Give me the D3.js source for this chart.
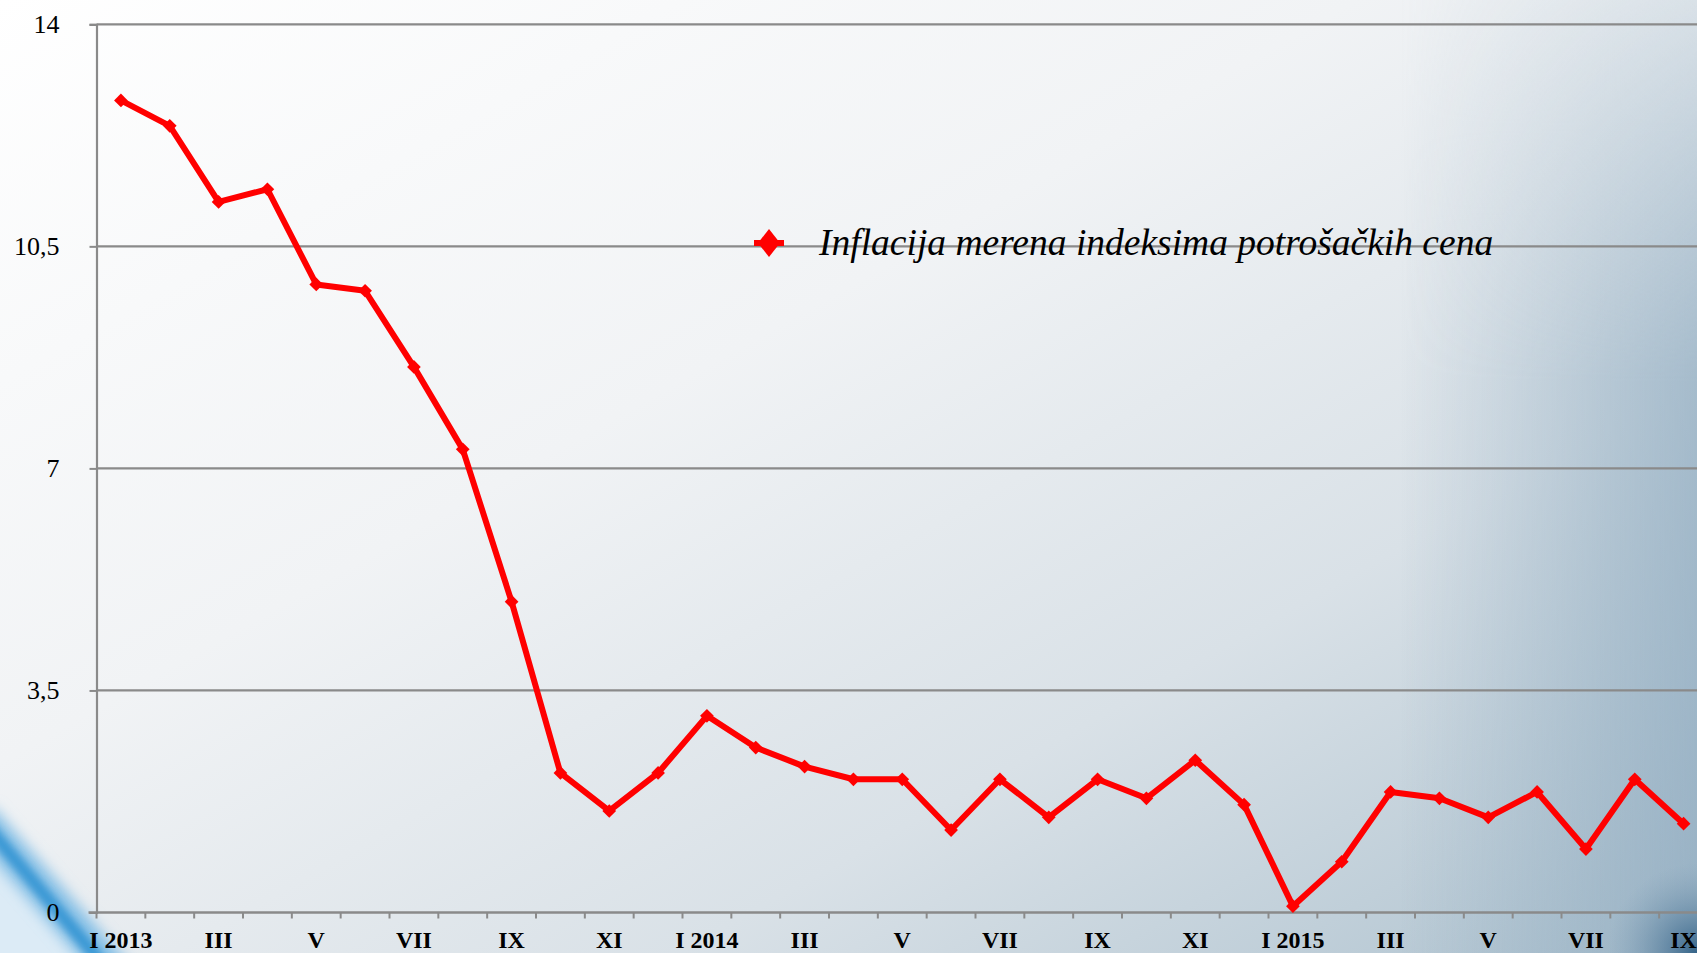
<!DOCTYPE html>
<html lang="sr">
<head>
  <meta charset="UTF-8">
  <title>Inflacija merena indeksima potrošačkih cena</title>
  <script src="https://d3js.org/d3.v7.min.js"></script>
  <style>
    body { margin: 0; overflow: hidden; }
    svg { display: block; }
    .ylab { font-family: "Liberation Serif", "Times New Roman", serif; font-size: 26px; fill: #000; }
    .xlab { font-family: "Liberation Serif", "Times New Roman", serif; font-size: 24px; font-weight: bold; fill: #000; }
    .legend { font-family: "Liberation Serif", "Times New Roman", serif; font-size: 37.5px; font-style: italic; fill: #000; }
  </style>
</head>
<body>
  <svg id="chart" width="1697" height="953"></svg>
  <script>
    // podaci - godisnja inflacija (%)
    const months = ["I", "II", "III", "IV", "V", "VI", "VII", "VIII", "IX", "X", "XI", "XII"];
    const years = [2013, 2014, 2015];
    const values2013 = [12.8, 12.4, 11.2, 11.4, 9.9, 9.8, 8.6, 7.3, 4.9, 2.2, 1.6, 2.2];
    const values2014 = [3.1, 2.6, 2.3, 2.1, 2.1, 1.3, 2.1, 1.5, 2.1, 1.8, 2.4, 1.7];
    const values2015 = [0.1, 0.8, 1.9, 1.8, 1.5, 1.9, 1.0, 2.1, 1.4];
    const yTicks = [0, 3.5, 7, 10.5, 14];
    const seriesName = "Inflacija merena indeksima potrošačkih cena";

    const series = [values2013, values2014, values2015];
    const data = [];
    series.forEach((vals, yi) => {
      vals.forEach((v, mi) => {
        data.push({ key: months[mi] + " " + years[yi], label: mi === 0 ? "I " + years[yi] : months[mi], value: v });
      });
    });

    const width = 1697, height = 953;
    const plotLeft = 96.5, plotRight = 1708, plotTop = 24.3, plotBottom = 912.5;

    const svg = d3.select("#chart");
    const defs = svg.append("defs");

    // pozadina
    const bg = defs.append("linearGradient").attr("id", "bg")
      .attr("x1", "0").attr("y1", "0").attr("x2", "1").attr("y2", "1");
    bg.append("stop").attr("offset", "0").attr("stop-color", "#ffffff");
    bg.append("stop").attr("offset", "0.4").attr("stop-color", "#f1f3f5");
    bg.append("stop").attr("offset", "0.7").attr("stop-color", "#d9e1e7");
    bg.append("stop").attr("offset", "1").attr("stop-color", "#aec2cf");

    const edge = defs.append("linearGradient").attr("id", "edge")
      .attr("x1", "0").attr("y1", "0").attr("x2", "1").attr("y2", "0");
    edge.append("stop").attr("offset", "0").attr("stop-color", "#8fabc0").attr("stop-opacity", 0);
    edge.append("stop").attr("offset", "1").attr("stop-color", "#8fabc0").attr("stop-opacity", 0.7);

    const edgeFade = defs.append("linearGradient").attr("id", "edgeFade")
      .attr("x1", "0").attr("y1", "0").attr("x2", "0").attr("y2", "1");
    edgeFade.append("stop").attr("offset", "0").attr("stop-color", "#fff").attr("stop-opacity", 0.25);
    edgeFade.append("stop").attr("offset", "0.4").attr("stop-color", "#fff").attr("stop-opacity", 1);
    edgeFade.append("stop").attr("offset", "1").attr("stop-color", "#fff").attr("stop-opacity", 1);
    const edgeMask = defs.append("mask").attr("id", "edgeMask");
    edgeMask.append("rect").attr("x", 1400).attr("y", 0).attr("width", 297).attr("height", height).attr("fill", "url(#edgeFade)");

    const corner = defs.append("radialGradient").attr("id", "corner")
      .attr("cx", "1").attr("cy", "1").attr("r", "1");
    corner.append("stop").attr("offset", "0").attr("stop-color", "#2f5f85").attr("stop-opacity", 0.95);
    corner.append("stop").attr("offset", "0.45").attr("stop-color", "#4f7898").attr("stop-opacity", 0.5);
    corner.append("stop").attr("offset", "1").attr("stop-color", "#7d9cb4").attr("stop-opacity", 0);

    const blur = defs.append("filter").attr("id", "blur").attr("x", "-50%").attr("y", "-50%").attr("width", "200%").attr("height", "200%");
    blur.append("feGaussianBlur").attr("stdDeviation", 7);
    const blur2 = defs.append("filter").attr("id", "blur2").attr("x", "-50%").attr("y", "-50%").attr("width", "200%").attr("height", "200%");
    blur2.append("feGaussianBlur").attr("stdDeviation", 3.5);

    svg.append("rect").attr("width", width).attr("height", height).attr("fill", "url(#bg)");
    svg.append("rect").attr("x", 1400).attr("y", 0).attr("width", 297).attr("height", height)
      .attr("fill", "url(#edge)").attr("mask", "url(#edgeMask)");
    svg.append("rect").attr("x", 1607).attr("y", 863).attr("width", 90).attr("height", 90).attr("fill", "url(#corner)");

    // plava traka dole levo
    svg.append("path").attr("d", "M-40,800 L150,1000 L-40,1000 Z").attr("fill", "#dcebf6").attr("filter", "url(#blur)");
    svg.append("line").attr("x1", -20).attr("y1", 818).attr("x2", 125).attr("y2", 985)
      .attr("stroke", "#86c0e6").attr("stroke-width", 34).attr("filter", "url(#blur)");
    svg.append("line").attr("x1", -20).attr("y1", 818).attr("x2", 120).attr("y2", 985)
      .attr("stroke", "#3e9ad5").attr("stroke-width", 13).attr("filter", "url(#blur2)");

    // skale
    const x = d3.scaleBand()
      .domain(data.map(d => d.key))
      .range([plotLeft, plotRight])
      .padding(0);

    const y = d3.scaleLinear()
      .domain([0, 14])
      .range([plotBottom, plotTop]);

    // mreza
    svg.append("g")
      .selectAll("line")
      .data(yTicks.filter(t => t > 0))
      .enter()
      .append("line")
      .attr("x1", plotLeft).attr("x2", width)
      .attr("y1", d => y(d)).attr("y2", d => y(d))
      .attr("stroke", "#8a8a8a").attr("stroke-width", 2.2);

    // y osa
    const yAxis = svg.append("g")
      .attr("transform", `translate(${plotLeft},0)`)
      .call(d3.axisLeft(y).tickValues(yTicks).tickSize(7).tickPadding(30)
        .tickFormat(d => String(d).replace(".", ",")));
    yAxis.attr("font-size", null).attr("font-family", null);
    yAxis.select(".domain").attr("stroke", "#8a8a8a").attr("stroke-width", 2.2);
    yAxis.selectAll(".tick line").attr("stroke", "#8a8a8a").attr("stroke-width", 2);
    yAxis.selectAll(".tick text").attr("class", "ylab").attr("fill", null);

    // x osa
    const xg = svg.append("g");
    xg.append("line")
      .attr("x1", plotLeft - 8).attr("x2", width)
      .attr("y1", plotBottom).attr("y2", plotBottom)
      .attr("stroke", "#8a8a8a").attr("stroke-width", 2.4);
    xg.selectAll(".xtick")
      .data(data)
      .enter()
      .append("line")
      .attr("class", "xtick")
      .attr("x1", d => x(d.key)).attr("x2", d => x(d.key))
      .attr("y1", plotBottom).attr("y2", plotBottom + 6)
      .attr("stroke", "#8a8a8a").attr("stroke-width", 2);
    xg.selectAll(".xlab")
      .data(data.filter((d, i) => i % 2 === 0))
      .enter()
      .append("text")
      .attr("class", "xlab")
      .attr("x", d => x(d.key) + x.bandwidth() / 2)
      .attr("y", 948)
      .attr("text-anchor", "middle")
      .text(d => d.label);

    // linija
    const line = d3.line()
      .x(d => x(d.key) + x.bandwidth() / 2)
      .y(d => y(d.value));

    svg.append("path")
      .datum(data)
      .attr("fill", "none")
      .attr("stroke", "#ff0000")
      .attr("stroke-width", 6)
      .attr("stroke-linejoin", "round")
      .attr("d", line);

    const diamond = d3.symbol().type(d3.symbolDiamond2).size(120);
    svg.selectAll(".point")
      .data(data)
      .enter()
      .append("path")
      .attr("class", "point")
      .attr("transform", d => `translate(${x(d.key) + x.bandwidth() / 2},${y(d.value)})`)
      .attr("d", diamond)
      .attr("fill", "#ff0000");

    // legenda
    const lg = svg.append("g").attr("transform", "translate(769,243)");
    lg.append("line").attr("x1", -15).attr("x2", 15).attr("y1", 0).attr("y2", 0)
      .attr("stroke", "#ff0000").attr("stroke-width", 6);
    lg.append("path").attr("d", "M0,-14 L11,0 L0,14 L-11,0 Z").attr("fill", "#ff0000");
    lg.append("text").attr("class", "legend").attr("x", 50).attr("y", 12).text(seriesName);
  </script>
</body>
</html>
